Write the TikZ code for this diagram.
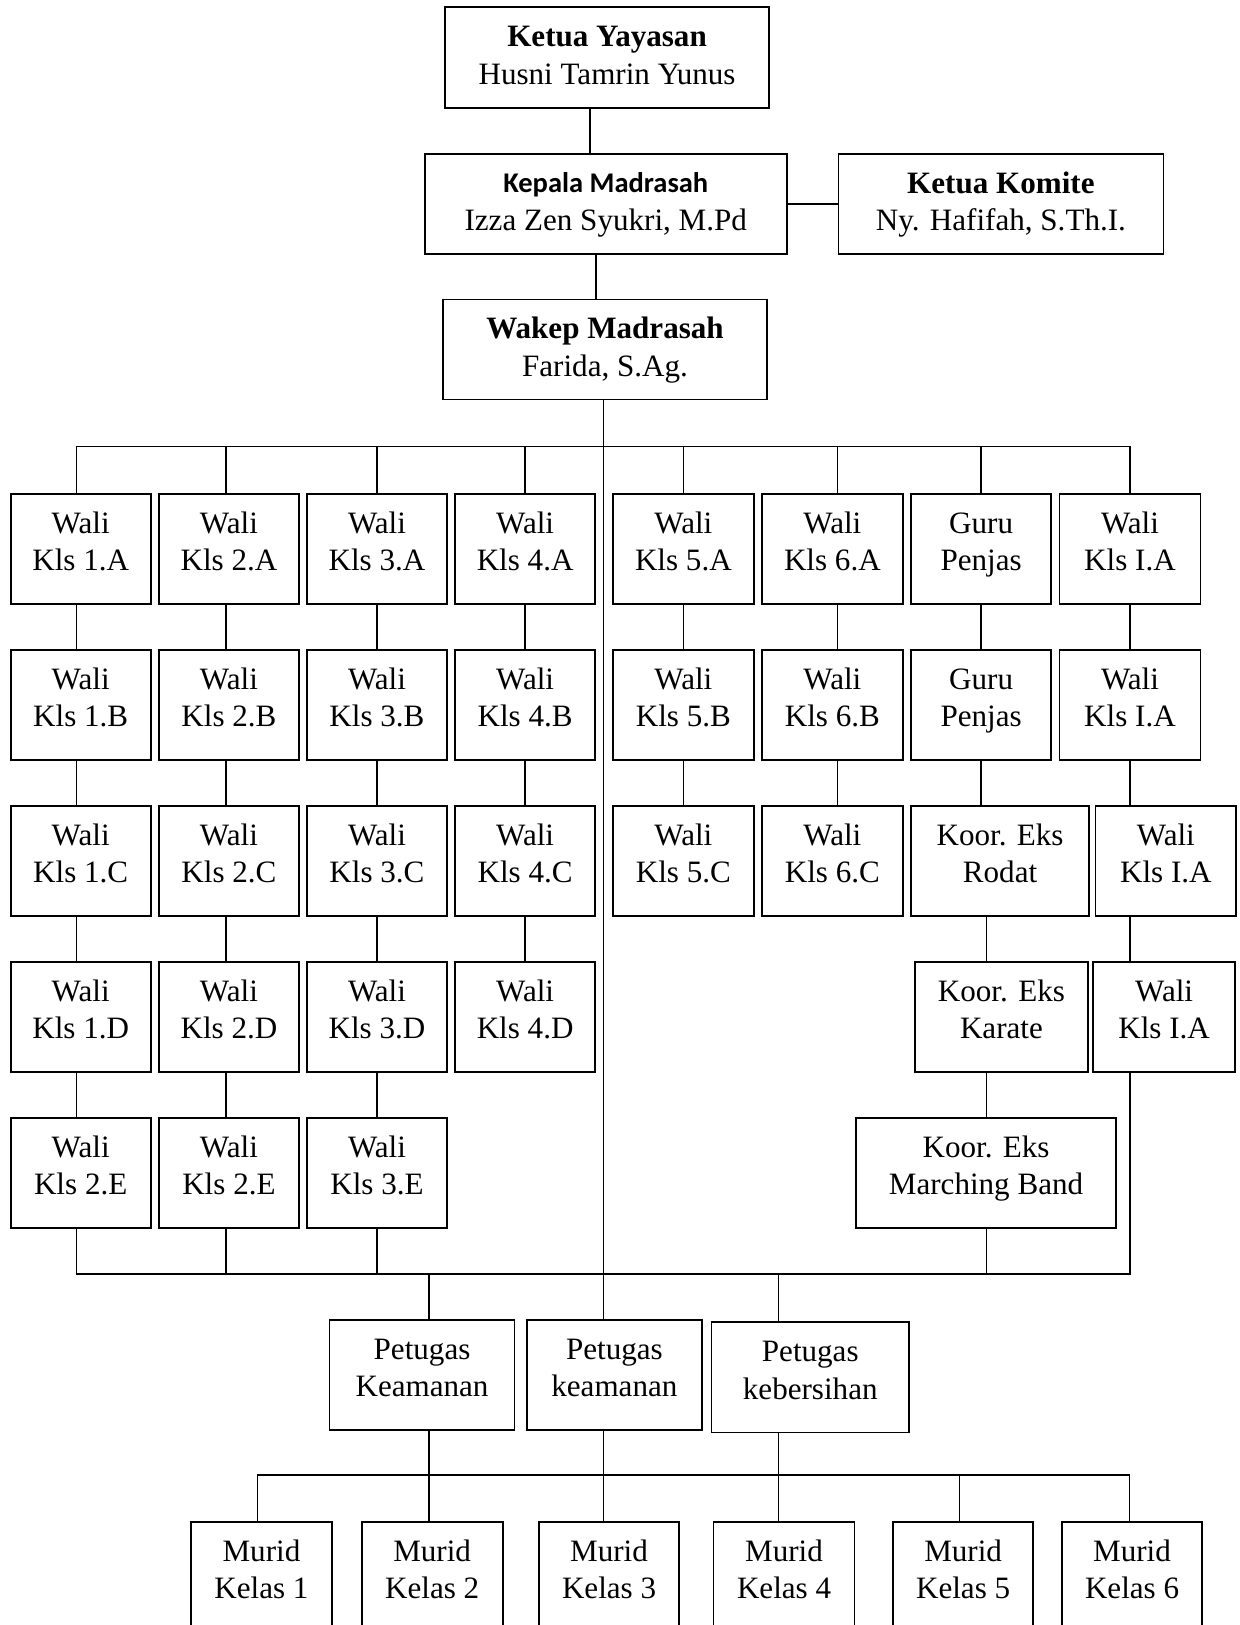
\documentclass[tikz,border=0pt]{standalone}
\usepackage{fontspec}
\setmainfont{Liberation Serif}
\newfontfamily\calibri{Carlito}
\newcommand\tx[2][-1.3pt]{\raisebox{#1}[0pt][0pt]{\begin{tabular}{@{}c@{}}#2\end{tabular}}}
\newcommand\bx[6]{\node[box, minimum width={(#4-#2)*0.4pt}, minimum height={(#5-#3)*0.4pt}] (#1) at ({(#2+#4)/2},{(#3+#5)/2}) {\tx{#6}};}
\tikzset{
  box/.style={draw, line width=0.7pt, inner sep=0pt, outer sep=0pt, fill=white, font=\fontsize{12}{14.4}\selectfont},
  conn/.style={line width=0.6pt},
}
\begin{document}
\begin{tikzpicture}[x=0.4pt, y=-0.4pt]
\clip (0,0) rectangle (1196,1568);
\fill[white] (0,0) rectangle (1196,1568);
% guide coordinates
\coordinate (xa) at (569.5,0);
\coordinate (xb) at (575,0);
\coordinate (xm) at (582.5,0);
\coordinate (x1) at (74,0);
\coordinate (x2) at (218,0);
\coordinate (x6) at (808,0);
\coordinate (xr) at (952,0);
\coordinate (xp1) at (414,0);
\coordinate (xp3) at (751,0);
\coordinate (xq1) at (248.6,0);
\coordinate (xq5) at (925.7,0);
\coordinate (xq6) at (1090,0);
\coordinate (tl) at (0,431);
\coordinate (bl) at (0,1229.4);
\coordinate (ml) at (0,1423.5);
% top boxes
\node[box, minimum width={312.5*0.4pt}, minimum height={97*0.4pt}] (ky) at (585.75,55.5)
  {\tx[-3.2pt]{\textbf{Ketua Yayasan}\\Husni Tamrin Yunus}};
\node[box, minimum width={349*0.4pt}, minimum height={96.4*0.4pt}] (kp) at (584.5,196.8)
  {\tx[-3pt]{{\calibri\bfseries\fontsize{11}{14.4}\selectfont Kepala Madrasah}\\Izza Zen Syukri, M.Pd}};
\node[box, minimum width={313.6*0.4pt}, minimum height={96.4*0.4pt}] (km) at (965.8,196.8)
  {\tx[-3.2pt]{\textbf{Ketua Komite}\\Ny. Hafifah, S.Th.I.}};
\node[box, minimum width={312.4*0.4pt}, minimum height={96.5*0.4pt}] (wk) at (583.8,337.25)
  {\tx[-3.2pt]{\textbf{Wakep Madrasah}\\Farida, S.Ag.}};
% row 1
\bx{w1a}{10.3}{477}{145.4}{583}{Wali\\Kls 1.A}
\bx{w2a}{153.4}{477}{288.4}{583}{Wali\\Kls 2.A}
\bx{w3a}{296.2}{477}{431.3}{583}{Wali\\Kls 3.A}
\bx{w4a}{439}{477}{574.4}{583}{Wali\\Kls 4.A}
\bx{w5a}{591.4}{477}{727.4}{583}{Wali\\Kls 5.A}
\bx{w6a}{735.4}{477}{871}{583}{Wali\\Kls 6.A}
\bx{g1}{879}{477}{1014.5}{583}{Guru\\Penjas}
\bx{w8a}{1022.4}{477}{1158.3}{583}{Wali\\Kls I.A}
% row 2
\bx{w1b}{10.3}{627.5}{145.4}{733.5}{Wali\\Kls 1.B}
\bx{w2b}{153.4}{627.5}{288.4}{733.5}{Wali\\Kls 2.B}
\bx{w3b}{296.2}{627.5}{431.3}{733.5}{Wali\\Kls 3.B}
\bx{w4b}{439}{627.5}{574.4}{733.5}{Wali\\Kls 4.B}
\bx{w5b}{591.4}{627.5}{727.4}{733.5}{Wali\\Kls 5.B}
\bx{w6b}{735.4}{627.5}{871}{733.5}{Wali\\Kls 6.B}
\bx{g2}{879}{627.5}{1014.5}{733.5}{Guru\\Penjas}
\bx{w8b}{1022.4}{627.5}{1158.3}{733.5}{Wali\\Kls I.A}
% row 3
\bx{w1c}{10.3}{778}{145.4}{884}{Wali\\Kls 1.C}
\bx{w2c}{153.4}{778}{288.4}{884}{Wali\\Kls 2.C}
\bx{w3c}{296.2}{778}{431.3}{884}{Wali\\Kls 3.C}
\bx{w4c}{439}{778}{574.4}{884}{Wali\\Kls 4.C}
\bx{w5c}{591.4}{778}{727.4}{884}{Wali\\Kls 5.C}
\bx{w6c}{735.4}{778}{871}{884}{Wali\\Kls 6.C}
\bx{rod}{879}{778}{1051}{884}{Koor. Eks\\Rodat}
\bx{w8c}{1057}{778}{1193}{884}{Wali\\Kls I.A}
% row 4
\bx{w1d}{10.3}{928.5}{145.4}{1034.5}{Wali\\Kls 1.D}
\bx{w2d}{153.4}{928.5}{288.4}{1034.5}{Wali\\Kls 2.D}
\bx{w3d}{296.2}{928.5}{431.3}{1034.5}{Wali\\Kls 3.D}
\bx{w4d}{439}{928.5}{574.4}{1034.5}{Wali\\Kls 4.D}
\bx{kar}{883}{928.5}{1049.6}{1034.5}{Koor. Eks\\Karate}
\bx{w8d}{1055}{928.5}{1191.6}{1034.5}{Wali\\Kls I.A}
% row 5
\bx{w1e}{10.3}{1079}{145.4}{1185}{Wali\\Kls 2.E}
\bx{w2e}{153.4}{1079}{288.4}{1185}{Wali\\Kls 2.E}
\bx{w3e}{296.2}{1079}{431.3}{1185}{Wali\\Kls 3.E}
\bx{mb}{826.3}{1079}{1076.6}{1185}{Koor. Eks\\Marching Band}
% petugas
\bx{pk}{318}{1273.8}{496.5}{1380}{Petugas\\Keamanan}
\bx{pk2}{508.7}{1273.8}{677}{1380}{Petugas\\keamanan}
\bx{pkb}{686.5}{1276}{877.2}{1382.3}{Petugas\\kebersihan}
% murid
\bx{m1}{184.6}{1468.5}{320}{1574.5}{Murid\\Kelas 1}
\bx{m2}{349}{1468.5}{485}{1574.5}{Murid\\Kelas 2}
\bx{m3}{520}{1468.5}{655.4}{1574.5}{Murid\\Kelas 3}
\bx{m4}{688.5}{1468.5}{824.6}{1574.5}{Murid\\Kelas 4}
\bx{m5}{861.7}{1468.5}{997}{1574.5}{Murid\\Kelas 5}
\bx{m6}{1024.7}{1468.5}{1160}{1574.5}{Murid\\Kelas 6}
% top connectors
\draw[conn] (ky.south -| xa) -- (kp.north -| xa);
\draw[conn] (kp.east) -- (km.west);
\draw[conn] (kp.south -| xb) -- (wk.north -| xb);
\draw[conn] (wk.south -| xm) -- (pk2.north -| xm);
% top comb
\draw[conn] (w1a.north -| x1) -- (tl -| x1) -- (tl -| w8a) -- (w8a.north);
\draw[conn] (tl -| x2) -- (w2a.north -| x2);
\draw[conn] (tl -| w3a) -- (w3a.north);
\draw[conn] (tl -| w4a) -- (w4a.north);
\draw[conn] (tl -| w5a) -- (w5a.north);
\draw[conn] (tl -| x6) -- (w6a.north -| x6);
\draw[conn] (tl -| g1) -- (g1.north);
% column chains
\draw[conn] (w1a.south -| x1) -- (w1b.north -| x1) (w1b.south -| x1) -- (w1c.north -| x1)
            (w1c.south -| x1) -- (w1d.north -| x1) (w1d.south -| x1) -- (w1e.north -| x1);
\draw[conn] (w2a.south -| x2) -- (w2b.north -| x2) (w2b.south -| x2) -- (w2c.north -| x2)
            (w2c.south -| x2) -- (w2d.north -| x2) (w2d.south -| x2) -- (w2e.north -| x2);
\draw[conn] (w3a.south) -- (w3b.north) (w3b.south) -- (w3c.north)
            (w3c.south) -- (w3d.north) (w3d.south) -- (w3e.north);
\draw[conn] (w4a.south) -- (w4b.north) (w4b.south) -- (w4c.north) (w4c.south) -- (w4d.north);
\draw[conn] (w5a.south) -- (w5b.north) (w5b.south) -- (w5c.north);
\draw[conn] (w6a.south -| x6) -- (w6b.north -| x6) (w6b.south -| x6) -- (w6c.north -| x6);
\draw[conn] (g1.south) -- (g2.north) (g2.south) -- (rod.north -| g2);
\draw[conn] (rod.south -| xr) -- (kar.north -| xr) (kar.south -| xr) -- (mb.north -| xr);
\draw[conn] (w8a.south) -- (w8b.north) (w8b.south) -- (w8c.north -| w8b)
            (w8c.south -| w8b) -- (w8d.north -| w8b);
% bottom comb
\draw[conn] (w1e.south -| x1) -- (bl -| x1) -- (bl -| w8b) -- (w8d.south -| w8b);
\draw[conn] (w2e.south -| x2) -- (bl -| x2);
\draw[conn] (w3e.south) -- (bl -| w3e);
\draw[conn] (mb.south -| xr) -- (bl -| xr);
\draw[conn] (bl -| xp1) -- (pk.north -| xp1);
\draw[conn] (bl -| xp3) -- (pkb.north -| xp3);
% murid comb
\draw[conn] (pk.south -| xp1) -- (m2.north -| xp1);
\draw[conn] (pk2.south -| xm) -- (m3.north -| xm);
\draw[conn] (pkb.south -| xp3) -- (m4.north -| xp3);
\draw[conn] (m1.north -| xq1) -- (ml -| xq1) -- (ml -| xq6) -- (m6.north -| xq6);
\draw[conn] (ml -| xq5) -- (m5.north -| xq5);
\end{tikzpicture}
\end{document}
